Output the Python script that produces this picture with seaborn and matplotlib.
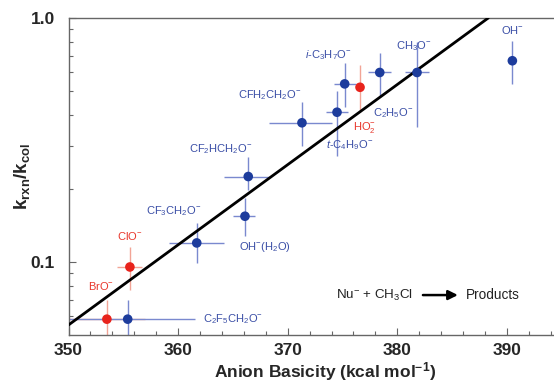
import numpy as np
import pandas as pd
import matplotlib
matplotlib.use("Agg")
import matplotlib.pyplot as plt
import seaborn as sns
from matplotlib.ticker import FixedLocator, NullFormatter, MultipleLocator

# data
names = ["BrO", "C2F5CH2O", "ClO", "CF3CH2O", "OH(H2O)", "CF2HCH2O", "CFH2CH2O",
         "t-C4H9O", "i-C3H7O", "HO2", "C2H5O", "CH3O", "OH"]
labels = [r"BrO$^{-}$", r"C$_2$F$_5$CH$_2$O$^{-}$", r"ClO$^{-}$", r"CF$_3$CH$_2$O$^{-}$",
          r"OH$^{-}$(H$_2$O)", r"CF$_2$HCH$_2$O$^{-}$", r"CFH$_2$CH$_2$O$^{-}$",
          r"$\it{t}$-C$_4$H$_9$O$^{-}$", r"$\it{i}$-C$_3$H$_7$O$^{-}$", r"HO$_2^{-}$",
          r"C$_2$H$_5$O$^{-}$", r"CH$_3$O$^{-}$", r"OH$^{-}$"]
basicity = [353.5, 355.4, 355.6, 361.7, 366.1, 366.4, 371.3, 374.5, 375.2, 376.6, 378.4, 381.8, 390.5]
k_ratio = [0.0583, 0.0583, 0.0954, 0.1197, 0.154, 0.224, 0.372, 0.411, 0.537, 0.520, 0.598, 0.598, 0.668]
x_lo = [349.0, 349.0, 354.4, 359.2, 365.0, 364.2, 368.3, 373.5, 374.2, 376.6, 377.3, 380.7, 390.5]
x_hi = [357.0, 361.5, 356.7, 364.2, 367.0, 368.4, 374.0, 375.5, 376.2, 376.6, 379.4, 382.9, 390.5]
y_lo = [0.045, 0.045, 0.077, 0.099, 0.128, 0.197, 0.299, 0.272, 0.430, 0.410, 0.475, 0.359, 0.534]
y_hi = [0.0698, 0.0698, 0.115, 0.144, 0.183, 0.270, 0.454, 0.500, 0.652, 0.640, 0.720, 0.800, 0.807]
group = ["red", "blue", "red", "blue", "blue", "blue", "blue",
         "blue", "blue", "red", "blue", "blue", "blue"]
# label offsets (points) relative to each marker
lab_dx = [-4, 54, 0, -17, -4, -20, -23, 9, -12, 3, 10, -2, 0]
lab_dy = [24, 0, 22, 23, -22, 20, 20, -24, 21, -29, -29, 19, 22]
lab_ha = ["center", "left", "center", "center", "left", "center", "center",
          "center", "center", "center", "center", "center", "center"]

fit_x = [350.0, 388.3]
fit_y = [0.0552, 1.0]

df = pd.DataFrame({"basicity": basicity, "k": k_ratio, "group": group})

sns.set_style("ticks")
plt.rcParams["font.family"] = ["Liberation Sans", "DejaVu Sans"]
plt.rcParams["mathtext.fontset"] = "custom"
plt.rcParams["mathtext.rm"] = "Liberation Sans"
plt.rcParams["mathtext.it"] = "Liberation Sans:italic"
plt.rcParams["mathtext.bf"] = "Liberation Sans:bold"

pt_col = {"blue": "#1d3c9c", "red": "#e8231c"}
bar_col = {"blue": "#7a89cf", "red": "#f2a496"}
txt_col = {"blue": "#3a4ea6", "red": "#e8372c"}

fig = plt.figure(figsize=(5.54, 3.83), dpi=100)
ax = fig.add_axes([0.1237, 0.1253, 0.8763, 0.8277])

for i in range(len(names)):
    g = group[i]
    xe = [[basicity[i] - x_lo[i]], [x_hi[i] - basicity[i]]]
    ye = [[k_ratio[i] - y_lo[i]], [y_hi[i] - k_ratio[i]]]
    ax.errorbar(basicity[i], k_ratio[i], xerr=xe, yerr=ye, fmt="none",
                ecolor=bar_col[g], elinewidth=1.0, capsize=0, zorder=2)

sns.lineplot(x=fit_x, y=fit_y, color="black", linewidth=2.0, ax=ax, zorder=3)

sns.scatterplot(data=df, x="basicity", y="k", hue="group", palette=pt_col,
                s=48, edgecolor="none", legend=False, ax=ax, zorder=4)

for i in range(len(names)):
    ax.annotate(labels[i], (basicity[i], k_ratio[i]), xytext=(lab_dx[i], lab_dy[i]),
                textcoords="offset points", ha=lab_ha[i], va="center",
                fontsize=8, color=txt_col[group[i]])

ax.set_yscale("log")
ax.set_xlim(350, 394.3)
ax.set_ylim(0.0502, 1.0)

ax.xaxis.set_major_locator(MultipleLocator(10))
ax.xaxis.set_minor_locator(MultipleLocator(2))
ax.yaxis.set_major_locator(FixedLocator([0.1, 1.0]))
ax.yaxis.set_minor_locator(FixedLocator([0.06, 0.07, 0.08, 0.09, 0.2, 0.3, 0.4,
                                         0.5, 0.6, 0.7, 0.8, 0.9]))
ax.yaxis.set_minor_formatter(NullFormatter())
ax.set_yticklabels(["0.1", "1.0"])
ax.set_xticks([350, 360, 370, 380, 390])
ax.set_xticklabels(["350", "360", "370", "380", "390"])

for lab in ax.get_xticklabels() + ax.get_yticklabels():
    lab.set_fontweight("bold")
    lab.set_fontsize(12.5)

ax.tick_params(which="major", direction="in", length=5, width=0.8, color="#666666")
ax.tick_params(which="minor", direction="in", length=3, width=0.8, color="#666666")
ax.tick_params(axis="x", which="major", pad=6)
ax.tick_params(axis="y", which="major", pad=10)
for side in ["left", "bottom", "top"]:
    ax.spines[side].set_color("#666666")
    ax.spines[side].set_linewidth(1.0)
ax.spines["right"].set_visible(False)

ax.set_xlabel("Anion Basicity (kcal mol$^{\\mathbf{-1}}$)", fontsize=12.5, fontweight="bold")
ax.set_ylabel(r"$\mathbf{k_{rxn}/k_{col}}$", fontsize=13.5)
ax.xaxis.set_label_coords(0.528, -0.080)
ax.yaxis.set_label_coords(-0.075, 0.5)

ax.text(0.551, 0.126, r"Nu$^{-}$ + CH$_3$Cl", transform=ax.transAxes,
        fontsize=9.6, ha="left", va="center", color="#222222")
ax.annotate("", xy=(0.802, 0.126), xytext=(0.730, 0.126), xycoords="axes fraction",
            arrowprops=dict(arrowstyle="-|>", color="black", lw=1.8,
                            mutation_scale=14, shrinkA=0, shrinkB=0))
ax.text(0.819, 0.126, "Products", transform=ax.transAxes,
        fontsize=9.8, ha="left", va="center", color="#222222")

fig.savefig("out.png", dpi=100)
